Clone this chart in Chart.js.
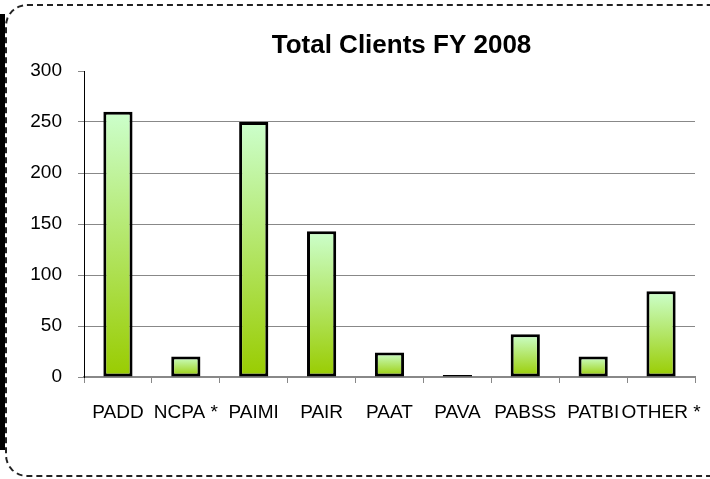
<!DOCTYPE html>
<html>
<head>
    <meta charset="utf-8">
    <title>Total Clients FY 2008</title>
    <style>
        body {
            margin: 0;
            background: #fff;
            overflow: hidden;
        }
        #frame {
            position: absolute;
            left: 5px;
            top: 4px;
            width: 730px;
            height: 469px;
            border: 2px dashed #222;
            border-radius: 22px;
        }
        #strip {
            position: absolute;
            left: 0;
            top: 14px;
            width: 5px;
            height: 436px;
            background: #000;
        }
        #wrap {
            position: absolute;
            left: 0;
            top: 0;
            width: 710px;
            height: 479px;
        }
    </style>
</head>
<body>
    <div id="frame"></div>
    <div id="strip"></div>
    <div id="wrap"><canvas id="myChart"></canvas></div>

    <script src="https://cdn.jsdelivr.net/npm/chart.js"></script>
    <script>
        // chart data
        const categories = ['PADD', 'NCPA *', 'PAIMI', 'PAIR', 'PAAT', 'PAVA', 'PABSS', 'PATBI', 'OTHER *'];
        const clients = [260, 20, 250, 143, 24, 2, 42, 20, 84];
        const yTicks = [0, 50, 100, 150, 200, 250, 300];
        const chartTitle = 'Total Clients FY 2008';

        const font = 'Liberation Sans, Arial, sans-serif';

        // each bar gets its own light-to-dark green fade
        function barFill(context) {
            const chart = context.chart;
            const y = chart.scales.y;
            if (!chart.chartArea || !y || context.raw == null) return '#b3e066';
            const top = y.getPixelForValue(context.raw);
            const base = y.getPixelForValue(0);
            if (!isFinite(top) || !isFinite(base) || base - top < 1) return '#99cc00';
            const g = chart.ctx.createLinearGradient(0, top, 0, base);
            g.addColorStop(0, '#ccffcc');
            g.addColorStop(1, '#99cc00');
            return g;
        }

        // title a bit right of the plot centre, like the original
        const titlePlugin = {
            id: 'plotTitle',
            afterDraw(chart) {
                const ctx = chart.ctx;
                const area = chart.chartArea;
                ctx.save();
                ctx.font = 'bold 26px ' + font;
                ctx.fillStyle = '#000';
                ctx.textAlign = 'center';
                ctx.textBaseline = 'middle';
                ctx.fillText(chartTitle, (area.left + area.right) / 2 + 12, 46);
                ctx.restore();
            }
        };

        const ctx = document.getElementById('myChart').getContext('2d');
        const myChart = new Chart(ctx, {
            type: 'bar',
            data: {
                labels: categories,
                datasets: [{
                    label: chartTitle,
                    data: clients,
                    backgroundColor: barFill,
                    borderColor: '#000',
                    borderWidth: 3,
                    borderSkipped: false,
                    barPercentage: 0.43,
                    categoryPercentage: 1
                }]
            },
            options: {
                responsive: true,
                maintainAspectRatio: false,
                animation: false,
                layout: {
                    padding: { left: 0, right: 15, top: 71, bottom: 42 }
                },
                plugins: {
                    legend: { display: false },
                    tooltip: { enabled: false }
                },
                scales: {
                    x: {
                        grid: {
                            offset: true,
                            drawOnChartArea: false,
                            tickLength: 6,
                            tickColor: '#888',
                            lineWidth: 1
                        },
                        border: { color: '#888', width: 2 },
                        ticks: {
                            autoSkip: false,
                            maxRotation: 0,
                            minRotation: 0,
                            padding: 18,
                            color: '#000',
                            font: { family: font, size: 19 }
                        },
                        afterFit(scale) {
                            scale.height = 60;
                            scale.paddingLeft = 0;
                            scale.paddingRight = 0;
                        }
                    },
                    y: {
                        min: 0,
                        max: 300,
                        afterBuildTicks(scale) {
                            scale.ticks = yTicks.map(v => ({ value: v }));
                        },
                        grid: {
                            color: c => (c.tick && c.tick.value === 300) ? 'rgba(0,0,0,0)' : '#888',
                            tickColor: '#888',
                            tickLength: 6,
                            lineWidth: 1
                        },
                        border: { color: '#000', width: 1 },
                        ticks: {
                            padding: 16,
                            color: '#000',
                            font: { family: font, size: 19 }
                        },
                        afterFit(scale) {
                            scale.width = 84;
                            scale.paddingTop = 0;
                            scale.paddingBottom = 0;
                        }
                    }
                }
            },
            plugins: [titlePlugin]
        });
    </script>
</body>
</html>
